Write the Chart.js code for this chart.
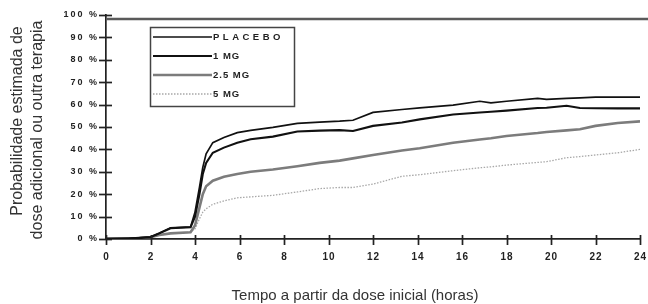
<!DOCTYPE html>
<html><head><meta charset="utf-8">
<script src="https://cdn.jsdelivr.net/npm/chart.js@4.4.1/dist/chart.umd.min.js"></script>
<style>html,body{margin:0;padding:0;background:#fff;}#wrap{width:648px;height:304px;}</style>
</head><body><div id="wrap"><canvas id="c" width="648" height="304"></canvas></div>
<script>
const hours   = [0,1,1.5,2,2.4,2.9,3.8,4.0,4.2,4.35,4.5,4.8,5.3,5.9,6.5,7.5,8.6,9.6,10.5,11.1,12,13.3,14.1,15.6,16.8,17.3,18,19.4,19.8,20.7,21.3,22,23,24];
const placebo = [0.3,0.3,0.6,1,2.7,5,5.4,12,23,32,38,43,45.3,47.5,48.5,49.8,51.6,52.2,52.6,53,56.5,57.8,58.5,59.8,61.5,60.8,61.5,62.8,62.3,62.8,63,63.3,63.3,63.3];
const mg1     = [0,0.2,0.4,0.8,2.5,4.8,5.2,10,20,29,34,38.5,40.8,43,44.5,45.7,48,48.4,48.6,48.2,50.5,52,53.4,55.6,56.5,56.8,57.3,58.5,58.6,59.5,58.5,58.4,58.3,58.3];
const mg25    = [0,0.2,0.4,0.8,1.8,2.5,3,6,14,20,23.5,26,27.8,29,30,31,32.5,34,35,36,37.5,39.5,40.5,43,44.4,45,46,47.3,47.8,48.5,49,50.5,51.8,52.5];
const mg5     = [0,0.2,0.4,0.8,1.8,2.5,3,4.5,9,12,13.5,15.5,17,18.4,18.8,19.5,21,22.5,23,23,24.5,28,28.7,30.5,31.8,32.2,33,34.2,34.5,36.3,36.8,37.5,38.5,40];
const seriesLabels = ['PLACEBO','1 MG','2.5 MG','5 MG'];
const xTicks = [0,2,4,6,8,10,12,14,16,18,20,22,24];
const yTicks = [0,10,20,30,40,50,60,70,80,90,100];
const xTitle = 'Tempo a partir da dose inicial (horas)';
const yTitle = ['Probabilidade estimada de','dose adicional ou outra terapia'];

const pts = arr => hours.map((h,i)=>({x:h,y:arr[i]}));
const styles = [
  {borderColor:'#111', borderWidth:1.7, borderDash:[]},
  {borderColor:'#111', borderWidth:2.1, borderDash:[]},
  {borderColor:'#7c7c7c', borderWidth:2.6, borderDash:[]},
  {borderColor:'#a8a8a8', borderWidth:1.3, borderDash:[1.5,1.5]}
];
const series = [placebo, mg1, mg25, mg5];

const deco = {
  id:'deco',
  afterDraw(chart){
    const {ctx, chartArea:a, scales:{x,y}} = chart;
    ctx.save();
    const yt = y.getPixelForValue(100) + 4;
    ctx.strokeStyle = '#5a5a5a'; ctx.lineWidth = 2.5;
    ctx.beginPath(); ctx.moveTo(a.left, yt); ctx.lineTo(chart.width, yt); ctx.stroke();
    ctx.strokeStyle = '#222'; ctx.lineWidth = 1.7;
    y.ticks.forEach(t=>{const py=Math.round(y.getPixelForValue(t.value))+0.5;
      ctx.beginPath(); ctx.moveTo(a.left-7,py); ctx.lineTo(a.left+6,py); ctx.stroke();});
    x.ticks.forEach(t=>{const px=Math.round(x.getPixelForValue(t.value))+0.5;
      ctx.beginPath(); ctx.moveTo(px,a.bottom-4); ctx.lineTo(px,a.bottom+6); ctx.stroke();});
    ctx.fillStyle = '#222';
    ctx.font = 'bold 9px "Liberation Sans", Arial, sans-serif';
    ctx.letterSpacing = '2px';
    ctx.textAlign = 'right'; ctx.textBaseline = 'middle';
    y.ticks.forEach(t=>{ctx.fillText(t.label, a.left-7, y.getPixelForValue(t.value));});
    ctx.font = 'bold 10px "Liberation Sans", Arial, sans-serif';
    ctx.letterSpacing = '1px';
    ctx.textAlign = 'center';
    x.ticks.forEach(t=>{ctx.fillText(t.label, x.getPixelForValue(t.value)+0.5, a.bottom+18);});
    ctx.letterSpacing = '0px';
    ctx.fillStyle = '#333';
    ctx.font = '15px "Liberation Sans", Arial, sans-serif';
    ctx.textAlign = 'center'; ctx.textBaseline = 'alphabetic';
    ctx.fillText(xTitle, 355, 300);
    ctx.font = '16px "Liberation Sans", Arial, sans-serif';
    ctx.textBaseline = 'middle';
    const yc = [[18,121],[38,130]];
    yTitle.forEach((s,i)=>{ctx.save(); ctx.translate(yc[i][0], yc[i][1]); ctx.rotate(-Math.PI/2); ctx.fillText(s,0,0); ctx.restore();});
    ctx.strokeStyle = '#444'; ctx.lineWidth = 1.5;
    ctx.strokeRect(150.5, 27.5, 144, 79);
    const rows = [37,56,75,94];
    const spacing = ['3.5px','1px','1px','1px'];
    chart.data.datasets.forEach((ds,i)=>{
      ctx.strokeStyle = ds.borderColor; ctx.lineWidth = ds.borderWidth; ctx.setLineDash(ds.borderDash||[]);
      ctx.beginPath(); ctx.moveTo(153, rows[i]); ctx.lineTo(212, rows[i]); ctx.stroke();
      ctx.setLineDash([]);
      ctx.fillStyle = '#222'; ctx.font = 'bold 9.5px "Liberation Sans", Arial, sans-serif';
      ctx.letterSpacing = spacing[i]; ctx.textAlign = 'left'; ctx.textBaseline = 'middle';
      ctx.fillText(ds.label, 213, rows[i]+0.5);
    });
    ctx.letterSpacing = '0px';
    ctx.restore();
  }
};

new Chart(document.getElementById('c'), {
  type:'line',
  data:{datasets: series.map((s,i)=>Object.assign({label:seriesLabels[i], data:pts(s), pointRadius:0, tension:0, fill:false}, styles[i]))},
  options:{
    responsive:false, animation:false, devicePixelRatio:1,
    layout:{padding:{left:0,right:8,top:15,bottom:0}},
    plugins:{legend:{display:false}, tooltip:{enabled:false}},
    scales:{
      x:{type:'linear', min:0, max:24,
         afterBuildTicks:s=>{s.ticks = xTicks.map(v=>({value:v}));},
         ticks:{display:false, callback:v=>String(v)},
         grid:{display:false}, border:{display:true,color:'#222',width:1.7},
         afterFit:s=>{s.height=65;}},
      y:{type:'linear', min:0, max:100,
         afterBuildTicks:s=>{s.ticks = yTicks.map(v=>({value:v}));},
         ticks:{display:false, callback:v=>v+' %'},
         grid:{display:false}, border:{display:true,color:'#222',width:1.7},
         afterFit:s=>{s.width=106;}}
    }
  },
  plugins:[deco]
});
</script></body></html>
